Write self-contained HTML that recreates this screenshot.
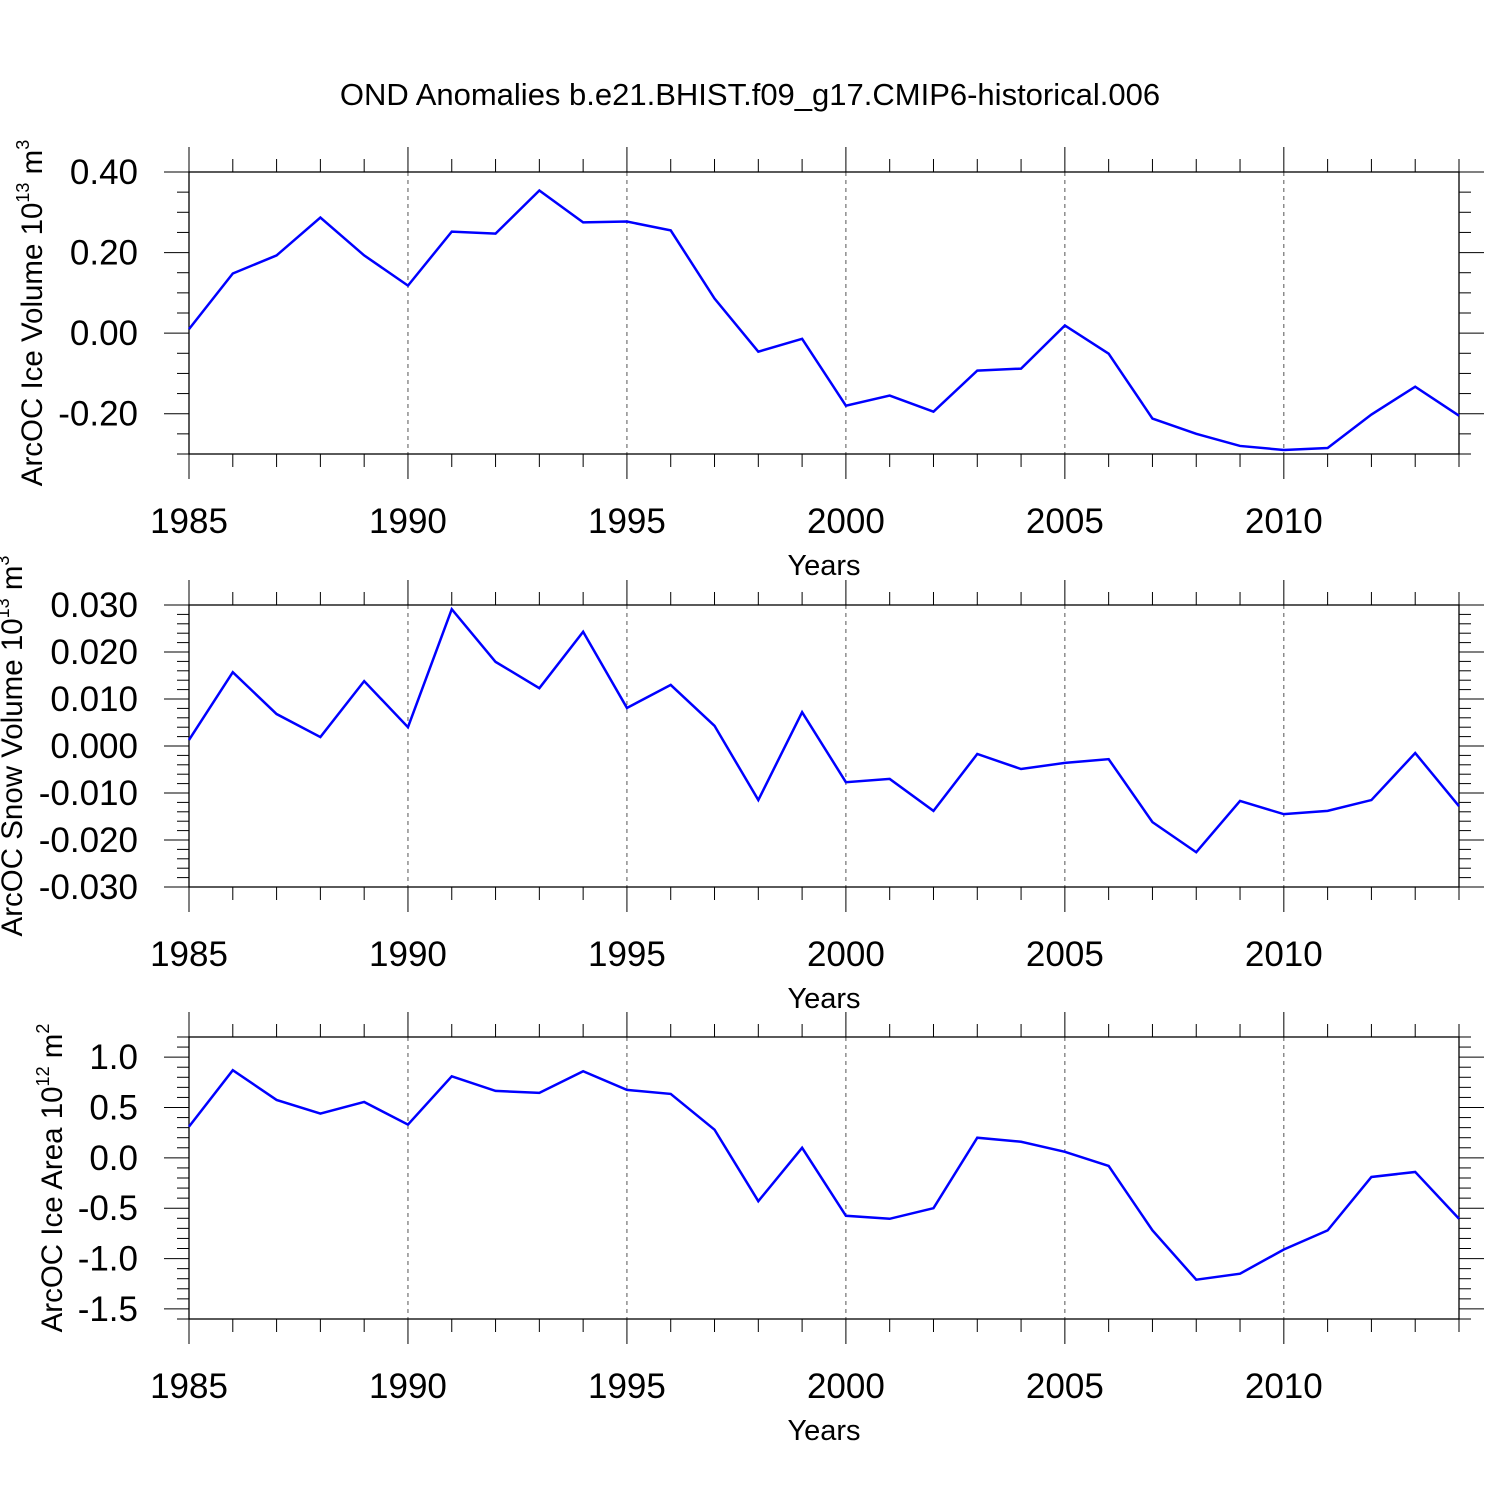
<!DOCTYPE html>
<html><head><meta charset="utf-8"><style>
html,body{margin:0;padding:0;background:#fff}
svg{display:block;font-family:"Liberation Sans",sans-serif}
</style></head><body>
<svg id="c" width="1500" height="1500" viewBox="0 0 1500 1500" xmlns="http://www.w3.org/2000/svg">
<text x="750" y="105" font-size="31" text-anchor="middle">OND Anomalies b.e21.BHIST.f09_g17.CMIP6-historical.006</text>
</svg>
<script>
const years = [1985,1986,1987,1988,1989,1990,1991,1992,1993,1994,1995,1996,1997,1998,1999,2000,2001,2002,2003,2004,2005,2006,2007,2008,2009,2010,2011,2012,2013,2014];
const iceVolume = [0.01,0.148,0.193,0.287,0.193,0.118,0.252,0.247,0.354,0.275,0.277,0.255,0.086,-0.046,-0.014,-0.180,-0.155,-0.195,-0.093,-0.088,0.019,-0.051,-0.212,-0.25,-0.28,-0.29,-0.285,-0.202,-0.133,-0.205];
const snowVolume = [0.0013,0.0157,0.0068,0.0019,0.0138,0.004,0.0291,0.0179,0.0123,0.0243,0.0081,0.013,0.0043,-0.0115,0.0072,-0.0077,-0.007,-0.0138,-0.0017,-0.0049,-0.0036,-0.0028,-0.0162,-0.0226,-0.0117,-0.0145,-0.0138,-0.0115,-0.0015,-0.0128];
const iceArea = [0.31,0.87,0.575,0.44,0.555,0.33,0.81,0.665,0.645,0.86,0.675,0.635,0.28,-0.43,0.10,-0.575,-0.605,-0.50,0.20,0.16,0.06,-0.08,-0.72,-1.21,-1.15,-0.91,-0.72,-0.19,-0.14,-0.605];
const xTickLabels = [1985,1990,1995,2000,2005,2010];
const iceVolTicks = [0.40,0.20,0.00,-0.20];
const snowVolTicks = [0.030,0.020,0.010,0.000,-0.010,-0.020,-0.030];
const iceAreaTicks = [1.0,0.5,0.0,-0.5,-1.0,-1.5];

const NS="http://www.w3.org/2000/svg";
const svg=document.getElementById('c');
function mk(tag,attrs,parent){const e=document.createElementNS(NS,tag);for(const k in attrs)e.setAttribute(k,attrs[k]);(parent||svg).appendChild(e);return e;}

const X0=189,X1=1459;
function xs(yr){return X0+(yr-1985)*(X1-X0)/29;}

function panel(cfg){
  const g=mk('g',{});
  
  
  const T=cfg.top,B=cfg.bottom;
  const ys=v=>T+(cfg.ymax-v)*(B-T)/(cfg.ymax-cfg.ymin);
  for(const yr of xTickLabels){ if(yr===1985) continue;
    const l=mk('line',{x1:xs(yr),x2:xs(yr),y1:T,y2:B,stroke:'#555','stroke-width':1,'stroke-dasharray':'4,4'},g);
    
    
  }
  for(let yr=1985;yr<=2014;yr++){
    const maj=yr%5===0; const x=xs(yr); const len=maj?25:13;
    mk('line',{x1:x,x2:x,y1:T-len,y2:T,stroke:'#000','stroke-width':1},g);
    mk('line',{x1:x,x2:x,y1:B,y2:B+len,stroke:'#000','stroke-width':1},g);
  }
  const nMinor=Math.round((cfg.ymax-cfg.ymin)/cfg.minor);
  for(let i=0;i<=nMinor;i++){
    const v=cfg.ymin+i*cfg.minor; const y=ys(v);
    const maj=Math.abs(v/cfg.major-Math.round(v/cfg.major))<1e-6; const len=maj?25:12;
    mk('line',{x1:X0-len,x2:X0,y1:y,y2:y,stroke:'#000','stroke-width':1},g);
    mk('line',{x1:X1,x2:X1+len,y1:y,y2:y,stroke:'#000','stroke-width':1},g);
  }
  const box=mk('rect',{x:X0,y:T,width:X1-X0,height:B-T,fill:'none',stroke:'#000','stroke-width':1.3},g);
  
  
  for(const v of cfg.ticks){
    const t=mk('text',{x:138,y:ys(v)+12,'font-size':35,'text-anchor':'end'},g);
    t.textContent=v.toFixed(cfg.dec);
    
    
  }
  for(const yr of xTickLabels){
    const t=mk('text',{x:xs(yr),y:B+79,'font-size':35,'text-anchor':'middle'},g);
    t.textContent=yr;
    
    
  }
  const xt=mk('text',{x:824,y:B+121,'font-size':29,'text-anchor':'middle'},g);
  xt.textContent='Years';
  
  
  const yt=mk('text',{x:0,y:0,'font-size':29.5,'text-anchor':'middle',transform:`translate(${cfg.ytx},${(T+B)/2}) rotate(-90)`},g);
  yt.innerHTML=cfg.ytitle;
  
  
  const pts=cfg.data.map((v,i)=>xs(years[i])+','+ys(v)).join(' ');
  const pl=mk('polyline',{points:pts,fill:'none',stroke:'#0000ff','stroke-width':2.5,'stroke-linejoin':'miter'},g);
  
  
}
panel({name:'ice-volume-panel',top:172,bottom:454,ymin:-0.30,ymax:0.40,major:0.2,minor:0.05,ticks:iceVolTicks,dec:2,data:iceVolume,ytx:42,
  ytitle:'ArcOC Ice Volume 10<tspan font-size="18" dy="-13">13</tspan><tspan dy="13"> m</tspan><tspan font-size="18" dy="-13">3</tspan>'});
panel({name:'snow-volume-panel',top:605,bottom:887,ymin:-0.030,ymax:0.030,major:0.010,minor:0.002,ticks:snowVolTicks,dec:3,data:snowVolume,ytx:22,
  ytitle:'ArcOC Snow Volume 10<tspan font-size="18" dy="-13">13</tspan><tspan dy="13"> m</tspan><tspan font-size="18" dy="-13">3</tspan>'});
panel({name:'ice-area-panel',top:1037,bottom:1319,ymin:-1.6,ymax:1.2,major:0.5,minor:0.1,ticks:iceAreaTicks,dec:1,data:iceArea,ytx:62,
  ytitle:'ArcOC Ice Area 10<tspan font-size="18" dy="-13">12</tspan><tspan dy="13"> m</tspan><tspan font-size="18" dy="-13">2</tspan>'});
</script>
</body></html>
